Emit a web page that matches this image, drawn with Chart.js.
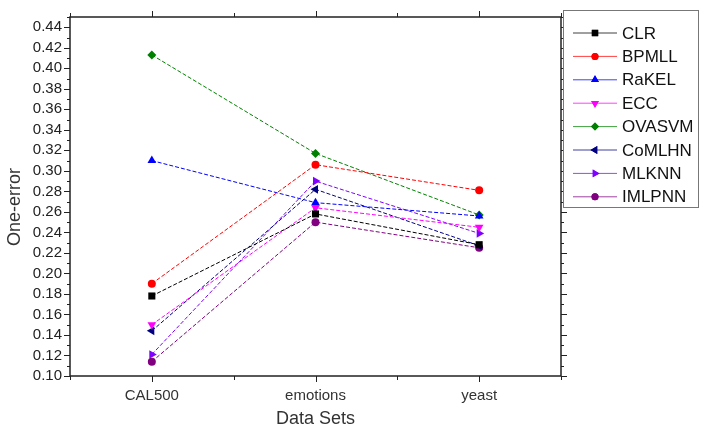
<!DOCTYPE html>
<html>
<head>
<meta charset="utf-8">
<script src="https://cdn.jsdelivr.net/npm/chart.js@4.4.1/dist/chart.umd.min.js"></script>
<style>
  html, body { margin: 0; padding: 0; background: #fff; }
  #wrap { width: 717px; height: 430px; }
</style>
</head>
<body>
<div id="wrap"><canvas id="chart" width="717" height="430"></canvas></div>
<script>
// data
const dataSets = ['CAL500', 'emotions', 'yeast'];
const methods = ['CLR', 'BPMLL', 'RaKEL', 'ECC', 'OVASVM', 'CoMLHN', 'MLKNN', 'IMLPNN'];
const clr    = [0.178, 0.258, 0.228];
const bpmll  = [0.190, 0.306, 0.281];
const rakel  = [0.310, 0.269, 0.256];
const ecc    = [0.150, 0.264, 0.245];
const ovasvm = [0.413, 0.317, 0.257];
const comlhn = [0.144, 0.282, 0.227];
const mlknn  = [0.121, 0.290, 0.239];
const imlpnn = [0.114, 0.250, 0.225];
const yTicks = [0.10, 0.12, 0.14, 0.16, 0.18, 0.20, 0.22, 0.24, 0.26, 0.28, 0.30,
                0.32, 0.34, 0.36, 0.38, 0.40, 0.42, 0.44];

const series = [clr, bpmll, rakel, ecc, ovasvm, comlhn, mlknn, imlpnn];
const colors = ['#000000', '#ff0000', '#0000ff', '#ff00ff', '#008000', '#000080', '#8000ff', '#800080'];
const shapes = ['rect', 'circle', 'triangle', 'triangle', 'rectRot', 'triangle', 'triangle', 'circle'];
const rotations = [0, 0, 0, 180, 0, 270, 90, 0];
const radii = [5, 4, 5, 5, 4.5, 5, 5, 4];

const FONT = '"Liberation Sans", Arial, sans-serif';

const datasets = methods.map((name, i) => ({
  label: name,
  data: series[i].map((v, k) => ({ x: k, y: v })),
  borderColor: colors[i],
  backgroundColor: colors[i],
  borderWidth: 1,
  borderDash: [4, 2],
  pointStyle: shapes[i],
  rotation: rotations[i],
  pointRadius: radii[i],
  pointBorderWidth: 0,
  tension: 0,
}));

// frame with outward ticks on all four sides (major + minor), plus y title
const framePlugin = {
  id: 'frame',
  afterDraw(chart) {
    const { ctx, chartArea: a, scales } = chart;
    ctx.save();
    ctx.strokeStyle = '#222';
    ctx.lineWidth = 1.5;
    ctx.strokeRect(a.left, a.top, a.right - a.left, a.bottom - a.top);
    ctx.lineWidth = 1;
    scales.y.ticks.forEach(t => {
      const y = Math.round(scales.y.getPixelForValue(t.value)) + 0.5;
      const major = Math.round(t.value * 100) % 2 === 0;
      const len = major ? 6 : 3;
      ctx.beginPath();
      ctx.moveTo(a.left - len, y); ctx.lineTo(a.left, y);
      ctx.moveTo(a.right, y); ctx.lineTo(a.right + len, y);
      ctx.stroke();
    });
    scales.x.ticks.forEach(t => {
      const x = Math.round(scales.x.getPixelForValue(t.value)) + 0.5;
      const len = Number.isInteger(t.value) ? 6 : 4;
      ctx.beginPath();
      ctx.moveTo(x, a.bottom); ctx.lineTo(x, a.bottom + len);
      ctx.moveTo(x, a.top - len); ctx.lineTo(x, a.top);
      ctx.stroke();
    });
    // y axis title
    ctx.translate(15, 207);
    ctx.rotate(-Math.PI / 2);
    ctx.fillStyle = '#333';
    ctx.font = '18px ' + FONT;
    ctx.textAlign = 'center';
    ctx.textBaseline = 'middle';
    ctx.fillText('One-error', 0, 0);
    ctx.restore();
  }
};

// boxed legend at the right, drawn from the dataset styles
const legendPlugin = {
  id: 'boxLegend',
  afterDraw(chart) {
    const { ctx } = chart;
    const box = { x: 563.5, y: 10.5, w: 135, h: 197 };
    ctx.save();
    ctx.fillStyle = '#fff';
    ctx.fillRect(box.x, box.y, box.w, box.h);
    ctx.strokeStyle = '#777';
    ctx.lineWidth = 1;
    ctx.strokeRect(box.x, box.y, box.w, box.h);
    chart.data.datasets.forEach((ds, i) => {
      const y = 33 + i * 23.4;
      ctx.strokeStyle = ds.borderColor;
      ctx.globalAlpha = 0.75;
      ctx.lineWidth = 1;
      ctx.beginPath();
      ctx.moveTo(573, y); ctx.lineTo(617, y);
      ctx.stroke();
      ctx.globalAlpha = 1;
      ctx.fillStyle = ds.backgroundColor;
      Chart.helpers.drawPoint(ctx, {
        pointStyle: ds.pointStyle, rotation: ds.rotation,
        radius: ds.pointRadius - 0.5, borderWidth: 0
      }, 595, y);
      ctx.fill();
      ctx.fillStyle = '#111';
      ctx.font = '17px ' + FONT;
      ctx.textBaseline = 'middle';
      ctx.textAlign = 'left';
      ctx.fillText(ds.label, 622, y + 1);
    });
    ctx.restore();
  }
};

new Chart(document.getElementById('chart'), {
  type: 'line',
  data: { datasets },
  plugins: [framePlugin, legendPlugin],
  options: {
    responsive: false,
    animation: false,
    layout: { padding: { top: 14, right: 156, left: 0, bottom: 0 } },
    plugins: {
      legend: { display: false },
      tooltip: { enabled: false }
    },
    scales: {
      x: {
        type: 'linear',
        min: -0.5,
        max: 2.5,
        afterFit: s => { s.height = 54; },
        grid: { display: false, drawTicks: false },
        border: { display: false },
        ticks: {
          stepSize: 0.5,
          autoSkip: false,
          maxRotation: 0,
          padding: 11,
          color: '#333',
          font: { family: FONT, size: 15 },
          callback: v => Number.isInteger(v) ? dataSets[v] : ''
        },
        title: {
          display: true,
          text: 'Data Sets',
          color: '#333',
          padding: { top: 0, bottom: 0 },
          font: { family: FONT, size: 18 }
        }
      },
      y: {
        min: 0.10,
        max: 0.45,
        afterFit: s => { s.width = 70; },
        grid: { display: false, drawTicks: false },
        border: { display: false },
        ticks: {
          stepSize: 0.01,
          autoSkip: false,
          padding: 8,
          color: '#222',
          font: { family: FONT, size: 15 },
          callback: v => {
            const r = Math.round(v * 100) / 100;
            return yTicks.some(t => Math.abs(t - r) < 1e-6) ? r.toFixed(2) : '';
          }
        }
      }
    }
  }
});
</script>
</body>
</html>
